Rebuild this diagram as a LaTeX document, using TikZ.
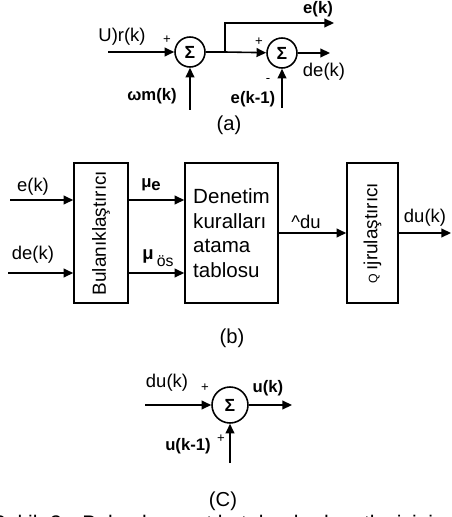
\documentclass[tikz,border=0pt]{standalone}
\usepackage{fontspec}
\setmainfont{Liberation Sans}
\usetikzlibrary{arrows.meta}
\newcommand{\lblfont}{\fontsize{10.5}{12}\selectfont}
\newcommand{\scanfont}{\bfseries\fontsize{9.5}{11}\selectfont}
\newcommand{\figcapfont}{\fontsize{12}{14}\selectfont\spaceskip=0.6em\relax}

\begin{document}
\begin{tikzpicture}[x=0.02cm, y=-0.02cm, line width=0.9pt,
    arr/.style={-{Triangle[length=5.5pt,width=5pt]}},
    sum/.style={draw, circle, inner sep=0pt, minimum size=0.6cm,
        font=\bfseries\fontsize{10}{10}\selectfont},
    blk/.style={draw, minimum height=2.8cm, inner sep=0pt},
    lbl/.style={font=\lblfont, inner sep=0pt},
    scan/.style={font=\scanfont, inner sep=0pt},
    sgn/.style={font=\fontsize{7.5}{8}\selectfont, inner sep=0pt},
    partcap/.style={font=\fontsize{11.5}{13}\selectfont, inner sep=0pt}]
\useasboundingbox (0,0) rectangle (452,517);

% Panel A: error and change of error
\node[sum] (s1) at (190,52) {Σ};
\node[sum] (s2) at (282,53) {Σ};
\coordinate (rin) at (108,52);
\coordinate (win) at (190,110);
\coordinate (br) at (225,52);
\coordinate (eout) at (334,23);
\coordinate (deout) at (330,53);
\coordinate (ekin) at (282,108);

\draw[arr] (rin) -- (s1);
\draw[arr] (win) -- (s1);
\draw (s1) -- (br);
\draw[arr] (br) -- (s2);
\draw[arr] (br) |- (eout);
\draw[arr] (s2) -- (deout);
\draw[arr] (ekin) -- (s2);

\node[lbl] (lr) at (122,37) {U)r(k)};
\node[sgn] (p1) at (167,40) {+};
\node[scan] (lw) at (152,96) {ωm(k)};
\node[sgn] (p2) at (259,42) {+};
\node[sgn] (m2) at (268,80) {-};
\node[scan] (le) at (318,9) {e(k)};
\node[lbl] (lde) at (324,72) {de(k)};
\node[scan] (lek) at (253,99) {e(k-1)};
\node[partcap] (capa) at (229,125) {(a)};

% Panel B: fuzzy controller
\node[blk, minimum width=1.08cm] (fuz) at (101,233) {};
\node[lbl, rotate=90, font=\fontsize{10.8}{12}\selectfont] (fuzt) at (fuz) {Bulanıklaştırıcı};
\node[blk, minimum width=1.86cm, align=left,
      font=\fontsize{11.7}{14}\selectfont] (rules) at (231.5,233)
      {Denetim\\kuralları\\atama\\tablosu};
\node[blk, minimum width=1.02cm] (defuz) at (372.5,233) {};
\node[lbl, rotate=90, font=\fontsize{10.8}{12}\selectfont] (defuzt) at (defuz)
      {{\fontsize{7}{8}\selectfont Q}\,ıjrulaştırıcı};
\coordinate (ein) at (10,200);
\coordinate (dein) at (8,273);
\coordinate (duout) at (451,233);

\draw[arr] (ein) -- (ein -| fuz.west);
\draw[arr] (dein) -- (dein -| fuz.west);
\draw[arr] (fuz.east |- ein) -- (rules.west |- ein);
\draw[arr] (fuz.east |- dein) -- (rules.west |- dein);
\draw[arr] (rules) -- (defuz);
\draw[arr] (defuz) -- (duout);

\node[lbl] (lek2) at (33,187) {e(k)};
\node[lbl] (ldek2) at (33,255) {de(k)};
\node[scan] (lmue) at (151,185) {μ\raisebox{-0.35ex}{e}};
\node[lbl] (lmuo) at (158,258) {{\bfseries μ}\,\raisebox{-0.7ex}{\fontsize{9}{10}\selectfont ös}};
\node[lbl] (ldu) at (306,222) {\textasciicircum du};
\node[lbl] (lduk) at (425,218) {du(k)};
\node[partcap] (capb) at (232,338) {(b)};

% Panel C: output integration
\node[sum, minimum size=0.72cm] (s3) at (230,405) {Σ};
\coordinate (duin) at (145,405);
\coordinate (uout) at (292,405);
\coordinate (uin) at (230,463);

\draw[arr] (duin) -- (s3);
\draw[arr] (s3) -- (uout);
\draw[arr] (uin) -- (s3);

\node[lbl] (ldu3) at (167,383) {du(k)};
\node[sgn] (p3) at (205,388) {+};
\node[scan] (lu) at (268,388) {u(k)};
\node[scan] (lu1) at (188,446) {u(k-1)};
\node[sgn] (p4) at (221,439) {+};
\node[partcap] (capc) at (223,501) {(C)};

% caption, cut at the lower edge
\node[anchor=base west, inner sep=0pt, font=\figcapfont] (fig)
      at (-9,530) {Şekil 3. Bulanık mantık tabanlı denetleyicinin blok diyagramı};
\end{tikzpicture}
\end{document}
